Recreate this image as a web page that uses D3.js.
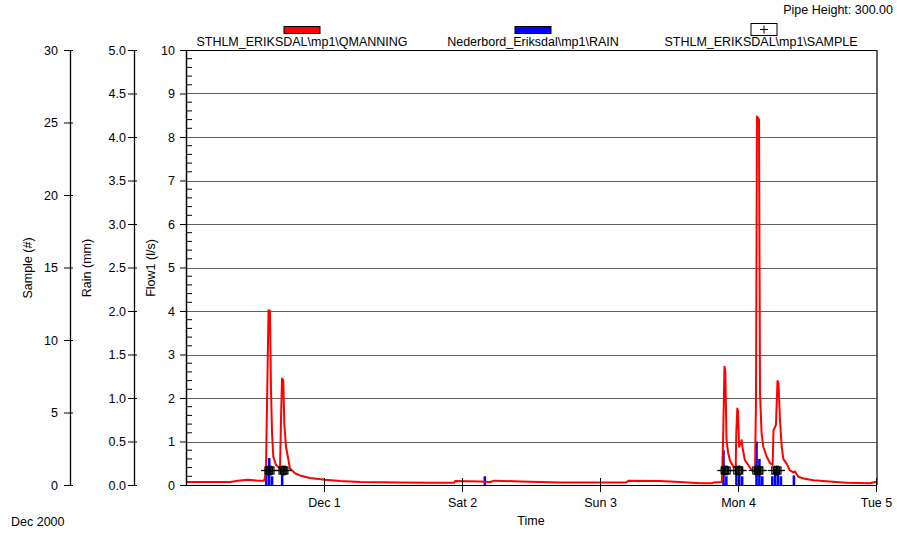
<!DOCTYPE html>
<html><head><meta charset="utf-8">
<script src="https://cdn.jsdelivr.net/npm/d3@7"></script>
<style>
html,body{margin:0;padding:0;background:#fff;}
svg text{font-family:"Liberation Sans",Arial,sans-serif;font-size:12.5px;fill:#000;}
</style></head>
<body><svg id="c" width="897" height="533"></svg>
<script>
// ---- data (time as hours since 2000-11-30 00:00) ----
const flowHours = [0,2.4,7.7,9,10.8,12.5,13.6,13.9,14.17,14.35,14.6,14.78,14.96,15.18,15.65,16.35,16.52,16.7,16.92,17.1,17.39,18.09,18.96,19.83,21.57,24.17,26.8,30.3,37.2,42.4,46.6,46.8,51.1,52.9,53.6,58.1,65,76.5,77,82.4,85.9,89.4,91.5,91.8,93.2,93.4,93.65,93.8,94,94.3,94.6,95.2,95.6,95.7,95.88,96,96.2,96.4,96.64,96.8,97.2,97.79,98.4,98.96,99.13,99.3,99.65,99.83,100.1,100.4,101,101.6,102.03,102.17,102.6,102.87,103.04,103.3,103.6,103.88,104.5,105,105.6,105.9,106.5,107.4,109.1,111.9,114.9,119,119.8,120];
const flowValues = [0.07,0.07,0.07,0.1,0.12,0.1,0.1,0.3,2.5,4.02,4.0,2.2,1.2,0.65,0.46,0.38,1.5,2.45,2.4,1.4,0.88,0.38,0.27,0.22,0.16,0.12,0.09,0.07,0.06,0.05,0.05,0.09,0.08,0.07,0.1,0.08,0.06,0.06,0.1,0.09,0.07,0.04,0.04,0.06,0.07,1.0,2.72,2.6,1.03,0.73,0.57,0.42,0.4,1.2,1.76,1.7,0.88,0.95,1.03,0.85,0.57,0.46,0.34,0.3,2.0,8.47,8.4,2.11,1.19,0.88,0.65,0.5,0.46,1.26,1.38,2.39,2.35,1.49,0.88,0.6,0.48,0.34,0.29,0.31,0.19,0.15,0.11,0.08,0.05,0.04,0.07,0.06];
const rainHours = [13.75,14.25,14.75,16.5,51.75,93.25,93.75,95.5,96,96.5,99,99.5,100,101.75,102.25,102.75,103.25,105.5];
const rainValues = [0.12,0.31,0.1,0.12,0.1,0.4,0.1,0.2,0.12,0.1,0.5,0.3,0.1,0.1,0.15,0.15,0.1,0.11];
const rainStepHours = 0.5;
const sampleHours = [14.26,14.52,14.78,16.7,16.96,17.2,93.6,93.8,94.1,95.8,96.1,96.3,99.1,99.4,99.65,99.8,102.4,102.7,102.96];
const sampleValues = sampleHours.map(()=>1);
const xTickLabels = ["Dec 1","Sat 2","Sun 3","Mon 4","Tue 5"];
const flowTicks = [0,1,2,3,4,5,6,7,8,9,10];
const rainTicks = [0,0.5,1,1.5,2,2.5,3,3.5,4,4.5,5];
const sampleTicks = [0,5,10,15,20,25,30];
const seriesNames = ["STHLM_ERIKSDAL\\mp1\\QMANNING","Nederbord_Eriksdal\\mp1\\RAIN","STHLM_ERIKSDAL\\mp1\\SAMPLE"];

// ---- layout ----
const L=186, R=877, T=50, B=485;
const start = new Date(2000,10,30,0,0);
const end = new Date(2000,11,5,0,0);
const hr = h => new Date(start.getTime()+h*3600000);
const svg = d3.select("#c");

const x = d3.scaleTime().domain([start,end]).range([L,876]);
const yF = d3.scaleLinear().domain([0,10]).range([B,T]);
const yR = d3.scaleLinear().domain([0,5]).range([B,T]);
const yS = d3.scaleLinear().domain([0,30]).range([B,T]);

// gridlines
svg.append("g").selectAll("line").data(flowTicks.filter(v=>v>0&&v<10)).join("line")
  .attr("x1",L).attr("x2",R).attr("y1",d=>Math.round(yF(d))+0.5).attr("y2",d=>Math.round(yF(d))+0.5)
  .attr("stroke","#606060").attr("stroke-width",1);

// frame
svg.append("line").attr("x1",L).attr("x2",R).attr("y1",T+0.5).attr("y2",T+0.5).attr("stroke","#000");
svg.append("line").attr("x1",R).attr("x2",R).attr("y1",T).attr("y2",B).attr("stroke","#333").attr("stroke-width",1.5);

// rain bars
svg.append("g").selectAll("rect").data(rainHours.map((h,i)=>({h,v:rainValues[i]}))).join("rect")
  .attr("x",d=>x(hr(d.h))).attr("width",d=>x(hr(d.h+rainStepHours))-x(hr(d.h))-0.3)
  .attr("y",d=>yR(d.v)).attr("height",d=>B-yR(d.v)).attr("fill","#0000ff");

// flow line
const line = d3.line().x((d,i)=>x(hr(flowHours[i]))).y(d=>yF(d));
svg.append("path").datum(flowValues).attr("d",line).attr("fill","none")
  .attr("stroke","#ff0000").attr("stroke-width",2).attr("stroke-linejoin","round");

// samples
const sg = svg.append("g").attr("stroke","#000").attr("fill","none");
sampleHours.forEach((h,i)=>{
  const cx = x(hr(h)), cy = yS(sampleValues[i]);
  sg.append("rect").attr("x",cx-3).attr("y",cy-3.5).attr("width",6).attr("height",7).attr("stroke-width",1.2);
  sg.append("line").attr("x1",cx-7).attr("x2",cx+7).attr("y1",cy).attr("y2",cy).attr("stroke-width",1.2);
  sg.append("line").attr("x1",cx).attr("x2",cx).attr("y1",cy-5).attr("y2",cy+5).attr("stroke-width",1.2);
});

// x axis
const xTickDates = xTickLabels.map((_,i)=>new Date(2000,11,1+i));
const xa = svg.append("g").attr("transform",`translate(0,${B})`)
  .call(d3.axisBottom(x).tickValues(xTickDates).tickFormat((d,i)=>xTickLabels[i]).tickSize(7).tickPadding(6));
xa.select(".domain").attr("d",`M${L},0.5H${R}`).attr("stroke","#000");
xa.selectAll(".tick line").attr("y1",-7).attr("stroke","#000");
xa.selectAll("text").style("font-size","12.5px");

// flow axis
const fa = svg.append("g").attr("transform",`translate(${L},0)`)
  .call(d3.axisLeft(yF).tickValues(flowTicks).tickFormat(d3.format("d")).tickSizeInner(6).tickSizeOuter(0).tickPadding(5));
fa.select(".domain").attr("stroke","#000").attr("stroke-width",1.5);
fa.selectAll(".tick line").attr("stroke","#000");
fa.append("g").selectAll("line").data(d3.range(0,50).filter(i=>i%5!==0).map(i=>i*0.2)).join("line")
  .attr("x1",0).attr("x2",6).attr("y1",d=>yF(d)).attr("y2",d=>yF(d)).attr("stroke","#000");

// rain axis
const ra = svg.append("g").attr("transform",`translate(134,0)`)
  .call(d3.axisLeft(yR).tickValues(rainTicks).tickFormat(d3.format(".1f")).tickSizeInner(6).tickSizeOuter(0).tickPadding(2));
ra.select(".domain").attr("stroke","#000").attr("stroke-width",1.3);
ra.selectAll(".tick line").attr("x2",-6).attr("x1",3).attr("stroke","#000");

// sample axis
const sa = svg.append("g").attr("transform",`translate(70,0)`)
  .call(d3.axisLeft(yS).tickValues(sampleTicks).tickFormat(d3.format("d")).tickSizeInner(6).tickSizeOuter(0).tickPadding(6));
sa.select(".domain").attr("stroke","#000").attr("stroke-width",1.3);
sa.selectAll(".tick line").attr("x1",3).attr("stroke","#000");

svg.selectAll(".tick text").style("font-size","12.5px").style("font-family","'Liberation Sans',Arial,sans-serif");

// axis titles
const titles = [["Sample (#)",28],["Rain (mm)",87],["Flow1 (l/s)",151]];
titles.forEach(([t,cx])=>{
  svg.append("text").attr("transform",`translate(${cx},268) rotate(-90)`).attr("text-anchor","middle")
    .attr("dy","0.35em").text(t);
});
svg.append("text").attr("x",531).attr("y",525).attr("text-anchor","middle").text("Time");
svg.append("text").attr("x",11).attr("y",526).text("Dec 2000");
svg.append("text").attr("x",893).attr("y",14).attr("text-anchor","end").text("Pipe Height: 300.00");

// legend
const legX = [302,533,761];
const legColors = ["#ff0000","#0000ff",null];
seriesNames.forEach((n,i)=>{
  svg.append("text").attr("x",legX[i]).attr("y",46).attr("text-anchor","middle").text(n);
  if(legColors[i]){
    svg.append("rect").attr("x",legX[i]-18).attr("y",26.5).attr("width",36).attr("height",7)
      .attr("fill",legColors[i]).attr("stroke","#000").attr("stroke-width",1);
  } else {
    const bx=764;
    svg.append("rect").attr("x",bx-13).attr("y",23.5).attr("width",26).attr("height",12).attr("fill","#fff").attr("stroke","#000");
    svg.append("line").attr("x1",bx-4).attr("x2",bx+4).attr("y1",29.5).attr("y2",29.5).attr("stroke","#000");
    svg.append("line").attr("x1",bx).attr("x2",bx).attr("y1",25.5).attr("y2",33.5).attr("stroke","#000");
  }
});
</script></body></html>
